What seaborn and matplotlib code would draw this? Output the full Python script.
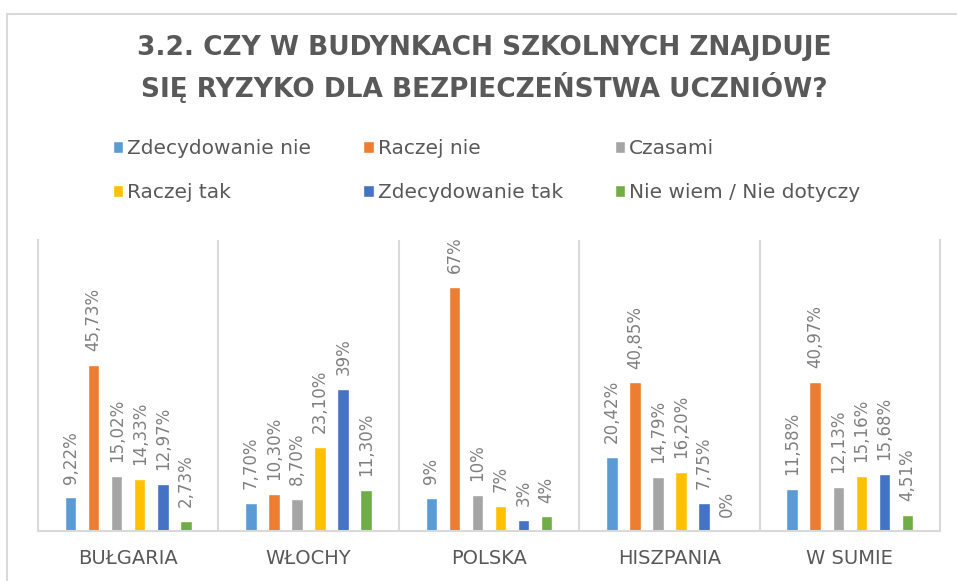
import numpy as np
import pandas as pd
import matplotlib
matplotlib.use("Agg")
import matplotlib.pyplot as plt
from matplotlib.lines import Line2D
import seaborn as sns

# ---- data ----
kraje = ["BUŁGARIA", "WŁOCHY", "POLSKA", "HISZPANIA", "W SUMIE"]
odpowiedzi = ["Zdecydowanie nie", "Raczej nie", "Czasami", "Raczej tak",
              "Zdecydowanie tak", "Nie wiem / Nie dotyczy"]
zdecydowanie_nie = [9.22, 7.70, 9, 20.42, 11.58]
raczej_nie = [45.73, 10.30, 67, 40.85, 40.97]
czasami = [15.02, 8.70, 10, 14.79, 12.13]
raczej_tak = [14.33, 23.10, 7, 16.20, 15.16]
zdecydowanie_tak = [12.97, 39, 3, 7.75, 15.68]
nie_wiem = [2.73, 11.30, 4, 0, 4.51]
kolory = ["#5B9BD5", "#ED7D31", "#A5A5A5", "#FFC000", "#4472C4", "#70AD47"]
tytul = "3.2. CZY W BUDYNKACH SZKOLNYCH ZNAJDUJE\nSIĘ RYZYKO DLA BEZPIECZEŃSTWA UCZNIÓW?"

serie = [zdecydowanie_nie, raczej_nie, czasami, raczej_tak, zdecydowanie_tak, nie_wiem]
rows = []
for odp, vals in zip(odpowiedzi, serie):
    for k, v in zip(kraje, vals):
        rows.append({"kraj": k, "odpowiedz": odp, "procent": v})
df = pd.DataFrame(rows)


def fmt(v):
    if float(v) == int(v):
        return f"{int(v)}%"
    return f"{v:.2f}".replace(".", ",") + "%"


sns.set_theme(style="white")
plt.rcParams["font.family"] = ["DejaVu Sans"]

W, H = 957, 581
fig = plt.figure(figsize=(W / 100, H / 100), dpi=100)
fig.patch.set_facecolor("white")
ax = fig.add_axes([38 / W, 1 - 531 / H, (940 - 38) / W, (531 - 240) / H])

sns.barplot(data=df, x="kraj", y="procent", hue="odpowiedz", order=kraje,
            hue_order=odpowiedzi, palette=kolory, width=0.767, gap=0.5,
            errorbar=None, saturation=1, ax=ax)

ax.set_xlim(-0.5, 4.5)
ax.set_ylim(0, 80)
ax.set_yticks([])
ax.set_xlabel("")
ax.set_ylabel("")
grid_c = "#D9D9D9"
ax.spines["top"].set_visible(False)
for s in ["left", "right", "bottom"]:
    ax.spines[s].set_color(grid_c)
    ax.spines[s].set_linewidth(1.5)
ax.set_xticks(np.arange(0.5, 4.5, 1), minor=True)
ax.grid(False)
ax.grid(which="minor", axis="x", color=grid_c, linewidth=1.5)
ax.tick_params(which="both", length=0)
ax.tick_params(axis="x", which="major", pad=13, labelsize=14, labelcolor="#595959")

for cont, vals in zip(ax.containers, serie):
    ax.bar_label(cont, labels=[fmt(v) for v in vals], rotation=90, padding=10,
                 fontsize=12, color="#808080")

handles, labels = ax.get_legend_handles_labels()
if ax.get_legend() is not None:
    ax.get_legend().remove()
order = [0, 3, 1, 4, 2, 5]
fig.legend([handles[i] for i in order], [labels[i] for i in order],
           loc="upper left", bbox_to_anchor=(113 / W, 1 - 139 / H), ncol=3,
           frameon=False, fontsize=14.5, handlelength=0.5, handleheight=0.5,
           handletextpad=0.2, columnspacing=2.6, labelspacing=1.25,
           borderpad=0, borderaxespad=0, labelcolor="#595959")

fig.text(484 / W, 1 - 69 / H, tytul, ha="center", va="center", fontsize=19,
         fontweight="bold", color="#595959", linespacing=1.44)

fig.add_artist(Line2D([7 / W, 1], [1 - 13.5 / H] * 2, transform=fig.transFigure,
                      color=grid_c, linewidth=1.5))
fig.add_artist(Line2D([7.5 / W] * 2, [1 - 13.5 / H, 0], transform=fig.transFigure,
                      color=grid_c, linewidth=1.5))

fig.savefig("out.png", dpi=100)
